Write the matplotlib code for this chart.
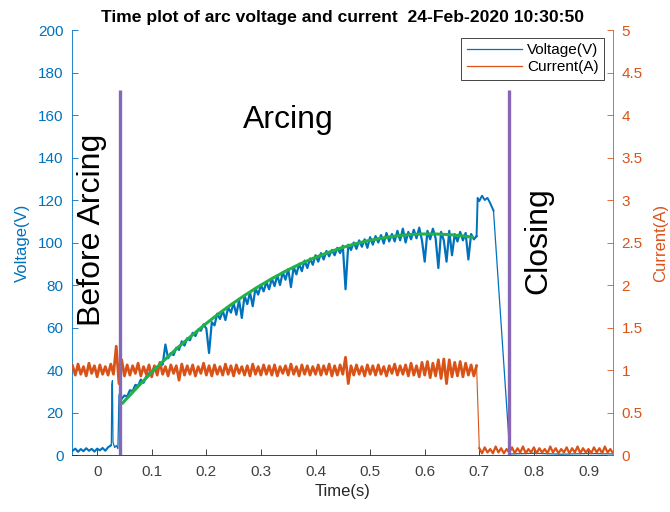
import numpy as np
import matplotlib
matplotlib.use('Agg')
import matplotlib.pyplot as plt

plt.rcParams['font.family'] = ['Liberation Sans', 'DejaVu Sans']

# ---- data ----
# voltage before arcing, sampled every 5 ms from -0.045 s
v_pre = [2.0, 3.0, 1.5, 2.8, 1.8, 3.2, 2.0, 2.9, 1.6, 3.0, 2.2, 3.3, 2.0, 3.6, 4.5]
# burst around contact opening
t_burst = [0.026, 0.027, 0.028, 0.029, 0.032, 0.035, 0.038, 0.040, 0.042]
v_burst = [5.0, 33.0, 35.0, 6.0, 3.5, 4.5, 3.0, 28.0, 30.0]
# arcing voltage, every 5 ms from 0.045 s to 0.695 s
v_arc = [26.5, 28.0, 27.5, 30.5, 30.0, 33.0, 32.5, 35.5, 34.0, 37.0,
         38.5, 39.0, 41.5, 40.0, 43.0, 42.5, 52.0, 45.5, 48.0, 47.0,
         50.5, 49.5, 53.5, 51.5, 55.0, 54.0, 57.5, 56.0, 59.0, 58.5,
         61.5, 59.5, 48.0, 62.5, 61.0, 66.5, 64.0, 68.0, 63.5, 69.5,
         67.0, 71.5, 66.0, 73.0, 64.5, 75.0, 71.0, 76.5, 70.0, 78.5,
         75.5, 80.0, 77.0, 81.5, 78.0, 83.0, 79.5, 84.5, 80.0, 86.0,
         82.5, 87.5, 79.0, 88.5, 85.0, 90.0, 86.5, 91.5, 88.0, 92.5,
         89.5, 94.0, 91.0, 95.0, 92.0, 96.0, 93.5, 96.5, 94.0, 97.5,
         95.0, 98.5, 78.0, 99.0, 96.5, 100.0, 97.0, 101.0, 98.0, 101.5,
         97.5, 102.5, 99.0, 103.0, 100.0, 103.5, 99.5, 104.5, 100.5, 104.0,
         100.5, 105.5, 101.0, 106.5, 100.0, 105.0, 101.5, 106.0, 102.0, 107.0,
         101.0, 91.0, 105.5, 101.5, 106.5, 102.0, 88.0, 105.0, 101.0, 91.0,
         105.5, 94.0, 104.0, 100.5, 105.0, 101.0, 104.5, 92.0, 104.0, 101.5,
         103.0]
# closing phase
t_close = [0.697, 0.700, 0.705, 0.710, 0.715, 0.720, 0.726, 0.756, 0.800, 0.850, 0.900, 0.945]
v_close = [121.0, 119.5, 122.0, 120.0, 121.0, 118.5, 115.0, 0.5, 0.8, 0.4, 0.7, 0.5]

# current while arcing, every 5 ms from -0.045 s to 0.695 s
i_on = [1.05, 0.94, 1.07, 0.95, 1.04, 0.93, 1.08, 0.96, 1.05, 0.92,
        1.06, 0.95, 1.04, 0.94, 1.07, 0.95, 1.28, 0.84, 1.12, 0.93,
        1.06, 0.94, 1.05, 0.96, 1.08, 0.93, 1.04, 0.95, 1.06, 0.92,
        1.05, 0.94, 1.09, 0.95, 1.04, 0.93, 1.06, 0.96, 1.05, 0.88,
        1.07, 0.94, 1.05, 0.95, 1.06, 0.93, 1.04, 0.96, 1.08, 0.94,
        1.05, 0.93, 1.06, 0.95, 1.04, 0.94, 1.07, 0.95, 1.05, 0.93,
        1.06, 0.96, 1.04, 0.94, 1.05, 0.93, 1.07, 0.95, 1.04, 0.94,
        1.06, 0.95, 1.05, 0.94, 1.06, 0.93, 1.04, 0.96, 1.05, 0.94,
        1.07, 0.95, 1.04, 0.93, 1.06, 0.95, 1.05, 0.94, 1.04, 0.95,
        1.06, 0.94, 1.05, 0.95, 1.07, 0.93, 1.05, 0.94, 1.06, 0.95,
        1.15, 0.84, 1.05, 0.94, 1.06, 0.95, 1.04, 0.93, 1.06, 0.95,
        1.05, 0.94, 1.06, 0.95, 1.04, 0.93, 1.05, 0.96, 1.07, 0.94,
        1.05, 0.95, 1.06, 0.93, 1.08, 0.94, 1.05, 0.92, 1.09, 0.94,
        1.10, 0.91, 1.08, 0.93, 1.12, 0.90, 1.13, 0.84, 1.12, 0.92,
        1.09, 0.93, 1.10, 0.92, 1.08, 0.94, 1.06, 0.93, 1.05]
# current after the drop, every 5 ms from 0.700 s to 0.950 s
i_off = [0.08, 0.02, 0.09, 0.03, 0.07, 0.02, 0.10, 0.03, 0.08, 0.02,
         0.07, 0.03, 0.09, 0.02, 0.08, 0.03, 0.10, 0.02, 0.07, 0.03,
         0.09, 0.02, 0.08, 0.03, 0.07, 0.02, 0.10, 0.03, 0.08, 0.02,
         0.07, 0.03, 0.09, 0.02, 0.08, 0.03, 0.10, 0.02, 0.08, 0.03,
         0.07, 0.02, 0.09, 0.03, 0.08, 0.02, 0.10, 0.03, 0.07, 0.02, 0.06]

# fitted arcing curve
t_fit = [0.045, 0.07, 0.095, 0.12, 0.145, 0.17, 0.195, 0.22, 0.245, 0.27,
         0.295, 0.32, 0.345, 0.37, 0.395, 0.42, 0.445, 0.47, 0.495, 0.52,
         0.545, 0.57, 0.595, 0.62, 0.645, 0.67, 0.69]
v_fit = [24.0, 30.9, 37.6, 43.9, 49.9, 55.5, 60.9, 66.0, 70.7, 75.1,
         79.2, 83.0, 86.5, 89.7, 92.5, 95.0, 97.3, 99.2, 100.8, 102.0,
         103.0, 103.7, 104.0, 104.0, 103.7, 103.1, 102.4]

# phase markers
t_marks = [0.042, 0.755]
v_mark_top = 172

xticks = [0, 0.1, 0.2, 0.3, 0.4, 0.5, 0.6, 0.7, 0.8, 0.9]
xtick_labels = ['0', '0.1', '0.2', '0.3', '0.4', '0.5', '0.6', '0.7', '0.8', '0.9']
vticks = [0, 20, 40, 60, 80, 100, 120, 140, 160, 180, 200]
iticks = [0, 0.5, 1, 1.5, 2, 2.5, 3, 3.5, 4, 4.5, 5]
itick_labels = ['0', '0.5', '1', '1.5', '2', '2.5', '3', '3.5', '4', '4.5', '5']

# ---- assemble series ----
dt = 0.005
t_pre = -0.045 + dt * np.arange(len(v_pre))
t_arc = 0.045 + dt * np.arange(len(v_arc))
t_ion = -0.045 + dt * np.arange(len(i_on))
t_ioff = 0.700 + dt * np.arange(len(i_off))

blue = '#0072BD'
orange = '#D95319'
green = '#22B04B'
purple = '#8567B5'

fig = plt.figure(figsize=(6.7, 5.12), dpi=100)
ax1 = fig.add_axes([0.1075, 0.1113, 0.8075, 0.8301])
ax2 = ax1.twinx()
ax3 = ax1.twinx()

# voltage: noisy parts drawn heavier, fast transitions thin
ax1.plot(t_pre, v_pre, color=blue, lw=1.5)
ax1.plot(np.r_[t_pre[-1], t_burst, t_arc[0]], np.r_[v_pre[-1], v_burst, v_arc[0]],
         color=blue, lw=0.9)
ax1.plot(t_arc, v_arc, color=blue, lw=1.6)
ax1.plot(np.r_[t_arc[-1], t_close[:7]], np.r_[v_arc[-1], v_close[:7]], color=blue, lw=1.4)
lv, = ax1.plot(t_close[6:], v_close[6:], color=blue, lw=0.9)

# current
li, = ax2.plot(t_ion, i_on, color=orange, lw=2.0)
ax2.plot([t_ion[-1], t_ioff[0]], [i_on[-1], i_off[0]], color=orange, lw=0.8)
ax2.plot(t_ioff, i_off, color=orange, lw=1.6)

ax3.plot(t_fit, v_fit, color=green, lw=2.2, solid_capstyle='butt')
for tm in t_marks:
    ax3.plot([tm, tm], [0, v_mark_top], color=purple, lw=2.4, solid_capstyle='butt')

xlim = (-0.046, 0.945)
for a in (ax1, ax2, ax3):
    a.set_xlim(*xlim)
ax1.set_ylim(0, 200)
ax2.set_ylim(0, 5)
ax3.set_ylim(0, 200)
ax3.axis('off')

ax1.set_xticks(xticks)
ax1.set_xticklabels(xtick_labels)
ax1.set_yticks(vticks)
ax2.set_yticks(iticks)
ax2.set_yticklabels(itick_labels)

tick_fs = 11
ax1.tick_params(axis='x', direction='in', length=4, width=0.6, colors='#262626',
                labelcolor='#404040', labelsize=tick_fs, pad=7)
ax1.tick_params(axis='y', direction='in', length=4, width=0.6, colors=blue,
                labelsize=tick_fs, pad=6)
ax2.tick_params(axis='y', direction='in', length=4, width=0.6, colors=orange,
                labelsize=tick_fs, pad=6)

for s in ('top', 'right'):
    ax1.spines[s].set_visible(False)
for s in ('top', 'left', 'bottom'):
    ax2.spines[s].set_visible(False)
ax1.spines['left'].set_color(blue)
ax1.spines['left'].set_linewidth(0.6)
ax1.spines['bottom'].set_color('#262626')
ax1.spines['bottom'].set_linewidth(0.6)
ax2.spines['right'].set_color(orange)
ax2.spines['right'].set_linewidth(0.6)

ax1.set_xlabel('Time(s)', fontsize=12, color='#262626', labelpad=4)
ax1.set_ylabel('Voltage(V)', fontsize=12, color=blue, labelpad=6)
ax2.set_ylabel('Current(A)', fontsize=12, color=orange, rotation=90, labelpad=8)

ax1.set_title('Time plot of arc voltage and current  24-Feb-2020 10:30:50',
              fontsize=12.6, fontweight='bold', pad=6)

ax3.text(-0.009, 106, 'Before Arcing', rotation=90, fontsize=23,
         ha='center', va='center')
ax3.text(0.35, 154, 'Arcing', fontsize=23, ha='center', va='baseline')
ax3.text(0.808, 101, 'Closing', rotation=90, fontsize=23,
         ha='center', va='center')

leg = ax3.legend([lv, li], ['Voltage(V)', 'Current(A)'], loc='upper right',
                 bbox_to_anchor=(0.983, 0.981), fontsize=11, frameon=True,
                 fancybox=False, framealpha=1, edgecolor='#262626',
                 handlelength=3.6, handletextpad=0.35, borderpad=0.35,
                 labelspacing=0.2, borderaxespad=0)
leg.get_frame().set_linewidth(0.6)
for line in leg.get_lines():
    line.set_linewidth(0.9)

fig.savefig('out.png', dpi=100)
